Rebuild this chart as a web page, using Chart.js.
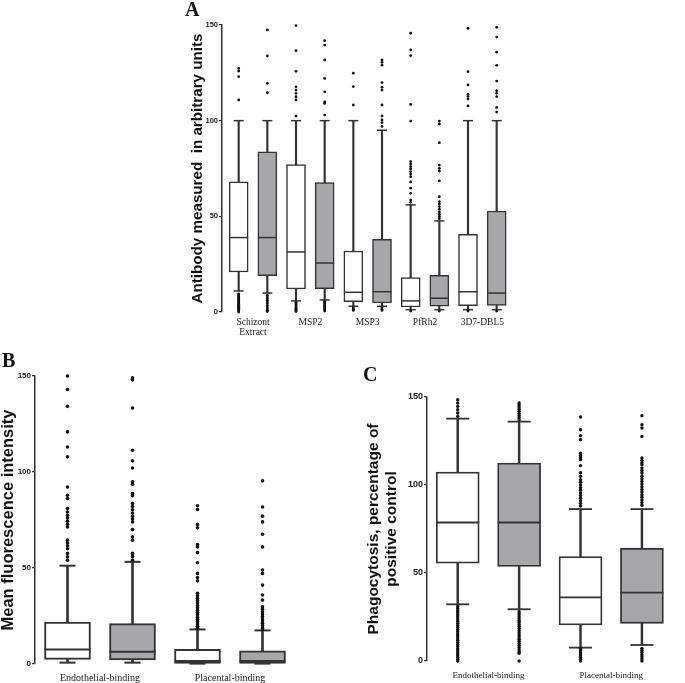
<!DOCTYPE html>
<html lang="en">

<head>
  <meta charset="UTF-8" />
  <title>Antibody responses - box plots</title>
  <script src="https://cdn.jsdelivr.net/npm/chart.js@4.4.1/dist/chart.umd.min.js"></script>
  <style>
    body { margin: 0; background: #fff; }
    #page { position: relative; width: 685px; height: 683px; overflow: hidden; background: #fff; }
    canvas { position: absolute; }
    .letter { position: absolute; font: bold 20px "Liberation Serif", "Times New Roman", serif; line-height: 20px; color: #111; }
  </style>
</head>

<body>
  <div id="page">
    <canvas id="chartA" width="342" height="345" style="left:180px; top:0px"></canvas>
    <canvas id="chartB" width="320" height="352" style="left:0px; top:340px"></canvas>
    <canvas id="chartC" width="330" height="351" style="left:355px; top:340px"></canvas>
    <div class="letter" style="left:185px; top:-1px">A</div>
    <div class="letter" style="left:2px; top:350px">B</div>
    <div class="letter" style="left:363px; top:364px">C</div>
  </div>

  <script>
    // ---- panel A : antibody levels (white / grey pairs) ----
    const labelsA = [["Schizont", "Extract"], "MSP2", "MSP3", "PfRh2", "3D7-DBL5"];
    const q1A = [20.9, 19.0, 12.0, 12.2, 5.4, 4.7, 2.6, 3.1, 3.3, 3.5];
    const medA = [38.9, 38.9, 31.4, 25.6, 10.3, 10.6, 5.8, 7.2, 10.6, 9.9];
    const q3A = [68.0, 83.7, 77.1, 67.7, 31.9, 38.0, 18.0, 19.2, 40.6, 52.8];
    const lowA = [11.0, 9.9, 5.8, 6.3, 3.0, 3.0, 1.2, 1.2, 1.2, 1.2];
    const highA = [100, 100, 100, 100, 100, 95, 56, 47.6, 100, 100];
    const outA = [
      [127.3, 125.9, 123, 110.8, 9.5, 9, 8.5, 8, 7.5, 7, 6.5, 6, 5.5, 5, 4.5, 4, 3.5, 3, 2.5, 2, 1.5, 1, 0.5, 0],
      [147.4, 133.8, 119.5, 114.6, 8.7, 7.8, 7, 6.1, 5.2, 4.4, 3.5, 2.6, 1.7, 0.9, 0.2],
      [149.7, 136.6, 125.8, 117.7, 116, 114.3, 112.5, 110.8, 102.4, 5, 4.4, 3.8, 3.2, 2.6, 2, 1.4, 0.8, 0.2],
      [141.8, 139.5, 131.7, 122.1, 115.1, 109.8, 109, 102.9, 5.6, 5, 4.3, 3.7, 3, 2.4, 1.7, 1.1, 0.5],
      [124.8, 117.8, 108.2, 2.2, 1.5, 0.8],
      [131.7, 130.5, 129, 119.9, 117.4, 116, 108.2, 102.5, 100.4, 99, 97, 2.2, 1.5, 0.8],
      [145.7, 137, 134, 108.5, 99.8, 78.6, 77.3, 76, 74.8, 73.4, 72.1, 70.7, 68, 64.7, 62, 58.5, 57.3, 0.5],
      [99.8, 98.3, 88.5, 76.8, 75.1, 73.7, 68.5, 60.3, 57.7, 56.5, 55.1, 53.7, 52.3, 51.1, 49.9, 48.8, 0.5],
      [148.3, 125.6, 118.7, 113.8, 112.6, 111.3, 107.7, 0.5],
      [148.8, 143.7, 135.8, 128.9, 120.7, 115.7, 114.3, 112.6, 106.9, 104.5, 0.5]
    ];

    // ---- panel B : mean fluorescence intensity ----
    const labelsB = ["Endothelial-binding", "Placental-binding"];
    const q1B = [2.4, 2.1, 0.3, 0.3];
    const medB = [7.6, 6.4, 1.6, 1.6];
    const q3B = [21.8, 21.0, 7.6, 6.9];
    const lowB = [0.7, 0.7, 0.2, 0.2];
    const highB = [51.2, 53.2, 18.0, 17.5];
    const outB = [
      [150, 143, 134.2, 120.9, 113, 107.9, 92.2, 87.9, 86.2, 81, 79.2, 77.5, 76, 74.3, 72.8, 71.4, 64.5, 63, 61.5, 60, 57.6, 55.8, 54.1],
      [149, 148, 133.3, 111.3, 105.8, 102.1, 94.9, 93.6, 88.8, 87.6, 83.6, 82, 80.3, 78.6, 77, 75.5, 74, 70, 66.2, 64.5, 57.6, 56, 54.1],
      [82.4, 80.5, 72.7, 70.9, 62.2, 61, 58, 52.7, 47.2, 45, 43.3, 36.8, 35.5, 34.2, 33, 31.8, 30.5, 29.3, 28, 26.8, 25.6, 24.4, 23.2, 22, 20.8, 19.6, 18.6],
      [95.4, 81.8, 77, 74, 67.6, 61, 48.9, 47.2, 41.1, 35.9, 33.3, 29.8, 28.5, 27.2, 26, 24.8, 23.6, 22.4, 21.2, 20, 18.8, 18.2]
    ];

    // ---- panel C : phagocytosis ----
    const labelsC = ["Endothelial-binding", "Placental-binding"];
    const q1C = [55.6, 53.7, 20.5, 21.4];
    const medC = [78.7, 78.7, 36.2, 38.9];
    const q3C = [107.3, 112.5, 59.4, 64.1];
    const lowC = [32.2, 29.4, 7.6, 9.1];
    const highC = [137.7, 136.0, 86.3, 86.3];
    const outC = [
      [148.5, 146.6, 144.7, 142.8, 140.9, 139, 31, 29.8, 28.6, 27.4, 26.2, 25, 23.8, 22.6, 21.4, 20.2, 19, 17.8, 16.6, 15.4, 14.2, 13, 11.8, 10.6, 9.4, 8.2, 7, 5.8, 4.6, 3.4, 2.2, 1, 0],
      [146.6, 145.5, 144.3, 143.1, 141.9, 140.7, 139.5, 138.3, 137.1, 28, 26.8, 25.6, 24.4, 23.2, 22, 20.8, 19.6, 18.4, 17.2, 16, 14.8, 13.6, 12.4, 11.2, 10, 8.8, 7.6, 6.4, 5.2, 4.4, 0],
      [138.6, 131.4, 128, 125.7, 118, 116.8, 115.6, 114.4, 111, 107, 105, 103, 101.5, 100, 98.5, 97, 95.5, 94, 92.5, 91, 89.5, 88, 7, 5.8, 4.6, 3.4, 2.2, 1, 0],
      [139.4, 134.3, 132.4, 127.6, 115.3, 114, 112.7, 111.5, 109.6, 108.2, 106.8, 105, 103.5, 102, 100.5, 99, 97.5, 96, 94.5, 93, 91.5, 90, 88.5, 7.2, 6, 4.8, 3.6, 2.4, 1.2, 0]
    ];

    const yTicks = [0, 50, 100, 150];
  </script>

  <!-- box plot builder -->
  <script>
    const INK = "#333333";
    const WHITE = "#ffffff";
    const GREY = "#a7a7aa";

    function boxPlot(canvasId, p) {
      const xs = p.q1.map((v, i) => i + 1);
      const whiskers = xs.map((x, i) => ({ x: x, y: [p.low[i], p.high[i]] }));
      const boxes = xs.map((x, i) => ({ x: x, y: [p.q1[i], p.q3[i]] }));
      const medians = xs.map((x, i) => ({ x: x, y: p.med[i] }));
      const caps = [];
      xs.forEach((x, i) => {
        caps.push({ x: x, y: p.low[i] });
        caps.push({ x: x, y: p.high[i] });
      });
      const dots = [];
      p.out.forEach((list, i) => {
        list.forEach(v => dots.push({ x: i + 1, y: v }));
      });

      return new Chart(document.getElementById(canvasId).getContext("2d"), {
        type: "bar",
        data: {
          datasets: [
            {
              type: "scatter", data: dots, order: 0, clip: false,
              pointRadius: p.dot, pointBorderWidth: 0, pointBackgroundColor: "#111"
            },
            {
              type: "scatter", data: medians, order: 1, clip: false,
              pointStyle: "line", pointRadius: p.box / 2, pointBorderWidth: p.line, pointBorderColor: INK
            },
            {
              type: "scatter", data: caps, order: 1, clip: false,
              pointStyle: "line", pointRadius: p.cap, pointBorderWidth: p.line, pointBorderColor: INK
            },
            {
              type: "bar", data: boxes, order: 2, clip: false, grouped: false,
              barThickness: p.box, borderSkipped: false, borderWidth: p.line, borderColor: INK,
              backgroundColor: xs.map((x, i) => (i % 2 ? GREY : WHITE))
            },
            {
              type: "bar", data: whiskers, order: 3, clip: false, grouped: false,
              barThickness: p.line, borderWidth: 0, backgroundColor: INK
            }
          ]
        },
        options: {
          responsive: false,
          animation: false,
          events: [],
          layout: { padding: p.padding },
          plugins: { legend: { display: false }, tooltip: { enabled: false } },
          scales: {
            x: {
              type: "linear", min: p.xMin, max: p.xMax, offset: false,
              grid: { display: false, drawTicks: false },
              border: { display: false },
              afterBuildTicks: (s) => { s.ticks = p.labels.map((l, i) => ({ value: 2 * i + 1.5 })); },
              afterFit: (s) => { s.height = p.xHeight; },
              ticks: {
                padding: p.xPad, maxRotation: 0, autoSkip: false, color: "#222",
                font: { family: "'Liberation Serif', 'Times New Roman', serif", size: p.xFont, lineHeight: 1.08 },
                callback: (v, i) => p.labels[i]
              }
            },
            y: {
              min: 0, max: 150,
              afterBuildTicks: (s) => { s.ticks = yTicks.map(v => ({ value: v })); },
              afterFit: (s) => { s.width = p.yWidth; },
              ticks: {
                padding: 1, color: "#222",
                font: { family: "'Liberation Sans', Arial, sans-serif", size: p.yFont, weight: "bold" }
              },
              grid: { drawOnChartArea: false, tickLength: 3, color: INK, lineWidth: 1.2 },
              border: { color: INK, width: 1.5 },
              title: {
                display: true, text: p.title, color: "#111",
                padding: { top: p.titlePad, bottom: 0 },
                font: { family: "'Liberation Sans', Arial, sans-serif", size: p.titleFont, weight: "bold", lineHeight: p.titleLine }
              }
            }
          }
        }
      });
    }

    const chartA = boxPlot("chartA", {
      labels: labelsA, q1: q1A, med: medA, q3: q3A, low: lowA, high: highA, out: outA,
      xMin: 0.418, xMax: 10.5, padding: { top: 25, left: 0, right: 5.4, bottom: 0 },
      xHeight: 33, xPad: 5, xFont: 9.5, yWidth: 42, yFont: 7.5,
      title: "Antibody measured  in arbitrary units", titleFont: 15.2, titleLine: 1.0, titlePad: 9.8,
      box: 19, cap: 5, line: 1.5, dot: 1.4
    });

    const chartB = boxPlot("chartB", {
      labels: labelsB, q1: q1B, med: medB, q3: q3B, low: lowB, high: highB, out: outB,
      xMin: 0.5, xMax: 4.5, padding: { top: 36, left: 0, right: 6, bottom: 0 },
      xHeight: 28, xPad: 8.5, xFont: 10, yWidth: 35, yFont: 8,
      title: "Mean fluorescence intensity", titleFont: 16.5, titleLine: 1.0, titlePad: 0,
      box: 46, cap: 8, line: 2, dot: 1.8
    });

    const chartC = boxPlot("chartC", {
      labels: labelsC, q1: q1C, med: medC, q3: q3C, low: lowC, high: highC, out: outC,
      xMin: 0.5, xMax: 4.322, padding: { top: 57, left: 0, right: 0, bottom: 0 },
      xHeight: 30, xPad: 10, xFont: 9, yWidth: 72, yFont: 9,
      title: ["Phagocytosis, percentage of", "positive control"], titleFont: 15.5, titleLine: 1.161, titlePad: 9.5,
      box: 43, cap: 11.5, line: 1.8, dot: 1.7
    });
  </script>
</body>

</html>
